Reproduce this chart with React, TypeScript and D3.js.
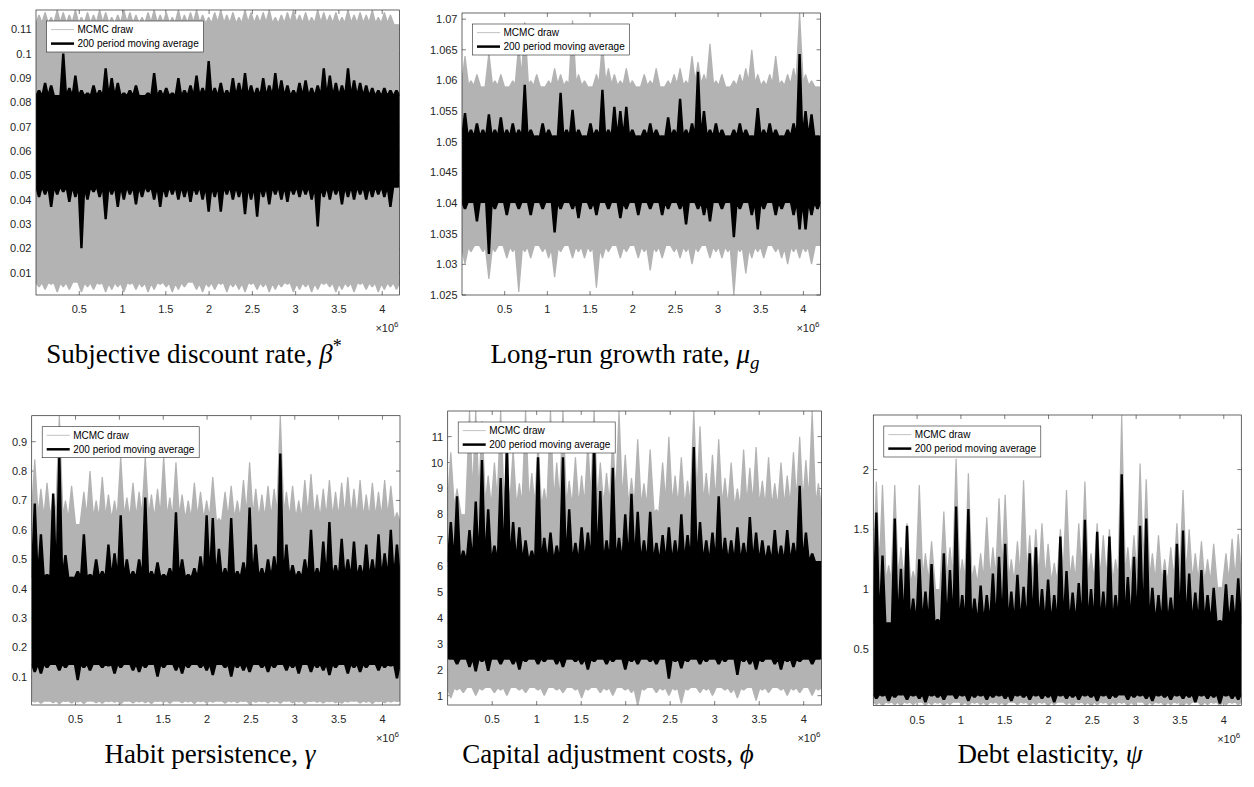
import React from 'react';
import * as d3 from 'd3';

// x axis: MCMC draw number, in millions (axis is scaled by 10^6)
const X_MAX = 4.2;
const BIN = 0.07; // width of one envelope bin, in millions of draws
const binStarts = d3.range(60).map((i) => i * BIN);
const xTicks = [0.5, 1, 1.5, 2, 2.5, 3, 3.5, 4];
const xTickLabels = ['0.5', '1', '1.5', '2', '2.5', '3', '3.5', '4'];

// ---- Subjective discount rate, beta* ----
const betaTicks = [0.01, 0.02, 0.03, 0.04, 0.05, 0.06, 0.07, 0.08, 0.09, 0.1, 0.11];
const betaTickLabels = ['0.01', '0.02', '0.03', '0.04', '0.05', '0.06', '0.07', '0.08', '0.09', '0.1', '0.11'];
const betaDrawHi = [0.116, 0.117, 0.115, 0.118, 0.117, 0.116, 0.118, 0.115, 0.117, 0.116, 0.118, 0.117, 0.115, 0.116, 0.118, 0.117, 0.116, 0.115, 0.117, 0.118, 0.116, 0.117, 0.115, 0.118, 0.116, 0.117, 0.118, 0.116, 0.115, 0.117, 0.118, 0.116, 0.117, 0.115, 0.118, 0.117, 0.116, 0.117, 0.118, 0.115, 0.116, 0.117, 0.118, 0.116, 0.117, 0.115, 0.118, 0.117, 0.116, 0.117, 0.115, 0.118, 0.116, 0.117, 0.116, 0.118, 0.115, 0.117, 0.116, 0.112];
const betaDrawLo = [0.004, 0.003, 0.005, 0.002, 0.004, 0.003, 0.006, 0.002, 0.004, 0.003, 0.005, 0.002, 0.003, 0.004, 0.002, 0.005, 0.003, 0.004, 0.002, 0.003, 0.005, 0.004, 0.002, 0.003, 0.004, 0.006, 0.003, 0.002, 0.004, 0.003, 0.005, 0.002, 0.004, 0.003, 0.002, 0.005, 0.003, 0.004, 0.002, 0.003, 0.004, 0.005, 0.002, 0.003, 0.004, 0.002, 0.003, 0.005, 0.004, 0.002, 0.003, 0.004, 0.002, 0.005, 0.003, 0.004, 0.002, 0.003, 0.004, 0.003];
const betaAvgHi = [0.085, 0.088, 0.087, 0.083, 0.1, 0.086, 0.091, 0.085, 0.084, 0.087, 0.085, 0.094, 0.09, 0.088, 0.084, 0.085, 0.087, 0.083, 0.084, 0.092, 0.085, 0.086, 0.084, 0.09, 0.085, 0.087, 0.091, 0.086, 0.097, 0.086, 0.088, 0.085, 0.09, 0.088, 0.092, 0.087, 0.086, 0.09, 0.087, 0.092, 0.089, 0.087, 0.085, 0.088, 0.089, 0.086, 0.087, 0.094, 0.091, 0.088, 0.087, 0.094, 0.089, 0.088, 0.087, 0.086, 0.085, 0.086, 0.085, 0.085];
const betaAvgLo = [0.041, 0.042, 0.037, 0.042, 0.043, 0.039, 0.041, 0.02, 0.04, 0.043, 0.041, 0.032, 0.042, 0.037, 0.04, 0.042, 0.038, 0.041, 0.043, 0.04, 0.037, 0.041, 0.042, 0.04, 0.041, 0.039, 0.042, 0.04, 0.035, 0.041, 0.035, 0.042, 0.04, 0.041, 0.034, 0.04, 0.033, 0.041, 0.038, 0.042, 0.04, 0.039, 0.042, 0.041, 0.042, 0.04, 0.029, 0.041, 0.04, 0.042, 0.038, 0.041, 0.04, 0.042, 0.04, 0.041, 0.042, 0.041, 0.037, 0.045];

// ---- Long-run growth rate, mu_g ----
const muTicks = [1.025, 1.03, 1.035, 1.04, 1.045, 1.05, 1.055, 1.06, 1.065, 1.07];
const muTickLabels = ['1.025', '1.03', '1.035', '1.04', '1.045', '1.05', '1.055', '1.06', '1.065', '1.07'];
const muDrawHi = [1.064, 1.06, 1.061, 1.059, 1.0645, 1.06, 1.061, 1.059, 1.06, 1.066, 1.0695, 1.06, 1.061, 1.059, 1.06, 1.062, 1.061, 1.06, 1.0698, 1.061, 1.06, 1.059, 1.061, 1.066, 1.062, 1.061, 1.06, 1.062, 1.06, 1.059, 1.061, 1.06, 1.062, 1.059, 1.06, 1.061, 1.062, 1.06, 1.064, 1.063, 1.061, 1.066, 1.06, 1.061, 1.059, 1.06, 1.061, 1.062, 1.065, 1.061, 1.06, 1.061, 1.064, 1.06, 1.061, 1.062, 1.071, 1.061, 1.06, 1.059];
const muDrawLo = [1.03, 1.032, 1.033, 1.032, 1.0276, 1.032, 1.033, 1.031, 1.032, 1.0255, 1.032, 1.031, 1.033, 1.032, 1.031, 1.0279, 1.032, 1.033, 1.031, 1.032, 1.031, 1.032, 1.0262, 1.031, 1.032, 1.033, 1.031, 1.032, 1.033, 1.031, 1.032, 1.029, 1.032, 1.031, 1.033, 1.032, 1.031, 1.032, 1.03, 1.032, 1.033, 1.031, 1.032, 1.031, 1.032, 1.025, 1.032, 1.0285, 1.031, 1.032, 1.031, 1.033, 1.032, 1.031, 1.03, 1.032, 1.031, 1.032, 1.03, 1.033];
const muAvgHi = [1.0547, 1.052, 1.053, 1.052, 1.0545, 1.052, 1.054, 1.052, 1.053, 1.052, 1.0593, 1.052, 1.051, 1.053, 1.052, 1.051, 1.058, 1.052, 1.0552, 1.052, 1.051, 1.053, 1.052, 1.0585, 1.052, 1.0557, 1.055, 1.0557, 1.052, 1.051, 1.052, 1.053, 1.052, 1.051, 1.054, 1.052, 1.057, 1.052, 1.053, 1.0614, 1.055, 1.052, 1.053, 1.052, 1.051, 1.052, 1.053, 1.052, 1.051, 1.0555, 1.052, 1.053, 1.052, 1.051, 1.052, 1.053, 1.0643, 1.055, 1.0545, 1.051];
const muAvgLo = [1.039, 1.04, 1.037, 1.04, 1.0317, 1.039, 1.04, 1.038, 1.04, 1.039, 1.04, 1.038, 1.04, 1.039, 1.04, 1.0352, 1.039, 1.04, 1.039, 1.0375, 1.04, 1.039, 1.038, 1.04, 1.039, 1.04, 1.0375, 1.039, 1.04, 1.038, 1.04, 1.039, 1.04, 1.038, 1.039, 1.04, 1.039, 1.0365, 1.04, 1.039, 1.038, 1.037, 1.04, 1.039, 1.04, 1.0344, 1.039, 1.04, 1.038, 1.0357, 1.039, 1.04, 1.038, 1.039, 1.04, 1.038, 1.0357, 1.0357, 1.038, 1.039];

// ---- Habit persistence, gamma ----
const gammaTicks = [0.1, 0.2, 0.3, 0.4, 0.5, 0.6, 0.7, 0.8, 0.9];
const gammaTickLabels = ['0.1', '0.2', '0.3', '0.4', '0.5', '0.6', '0.7', '0.8', '0.9'];
const gammaDrawHi = [0.84, 0.74, 0.76, 0.72, 0.99, 0.7, 0.75, 0.62, 0.73, 0.8, 0.7, 0.78, 0.72, 0.7, 0.85, 0.71, 0.76, 0.73, 0.85, 0.72, 0.74, 0.85, 0.71, 0.83, 0.72, 0.7, 0.76, 0.73, 0.7, 0.78, 0.64, 0.73, 0.75, 0.7, 0.77, 0.83, 0.74, 0.72, 0.75, 0.74, 0.99, 0.73, 0.75, 0.7, 0.77, 0.79, 0.72, 0.74, 0.77, 0.73, 0.76, 0.78, 0.74, 0.77, 0.72, 0.76, 0.73, 0.77, 0.75, 0.66];
const gammaDrawLo = [0.012, 0.008, 0.015, 0.01, 0.006, 0.014, 0.009, 0.012, 0.007, 0.016, 0.01, 0.008, 0.013, 0.011, 0.006, 0.015, 0.009, 0.012, 0.01, 0.007, 0.014, 0.011, 0.008, 0.016, 0.01, 0.012, 0.007, 0.013, 0.009, 0.011, 0.015, 0.008, 0.012, 0.01, 0.014, 0.006, 0.011, 0.013, 0.009, 0.012, 0.008, 0.015, 0.01, 0.012, 0.007, 0.014, 0.011, 0.009, 0.013, 0.01, 0.008, 0.012, 0.015, 0.009, 0.011, 0.007, 0.013, 0.01, 0.012, 0.014];
const gammaAvgHi = [0.69, 0.585, 0.45, 0.724, 0.85, 0.514, 0.44, 0.46, 0.585, 0.45, 0.5, 0.46, 0.55, 0.52, 0.65, 0.5, 0.46, 0.5, 0.71, 0.46, 0.49, 0.45, 0.47, 0.66, 0.5, 0.45, 0.47, 0.51, 0.65, 0.64, 0.536, 0.47, 0.64, 0.46, 0.49, 0.676, 0.55, 0.47, 0.5, 0.51, 0.86, 0.55, 0.48, 0.46, 0.5, 0.6, 0.47, 0.56, 0.627, 0.48, 0.57, 0.5, 0.56, 0.48, 0.55, 0.5, 0.585, 0.52, 0.6, 0.55];
const gammaAvgLo = [0.115, 0.11, 0.13, 0.14, 0.12, 0.13, 0.14, 0.088, 0.13, 0.12, 0.14, 0.13, 0.135, 0.11, 0.13, 0.14, 0.12, 0.115, 0.13, 0.14, 0.1, 0.13, 0.14, 0.12, 0.11, 0.13, 0.14, 0.13, 0.12, 0.105, 0.14, 0.13, 0.1, 0.13, 0.12, 0.115, 0.14, 0.13, 0.115, 0.13, 0.14, 0.12, 0.13, 0.11, 0.14, 0.115, 0.13, 0.12, 0.105, 0.13, 0.14, 0.11, 0.13, 0.115, 0.13, 0.14, 0.12, 0.13, 0.135, 0.094];

// ---- Capital adjustment costs, phi ----
const phiTicks = [1, 2, 3, 4, 5, 6, 7, 8, 9, 10, 11];
const phiTickLabels = ['1', '2', '3', '4', '5', '6', '7', '8', '9', '10', '11'];
const phiDrawHi = [10.4, 9.0, 8.0, 12.0, 12.0, 11.6, 9.5, 10.0, 12.0, 9.8, 10.5, 9.2, 12.0, 9.6, 10.7, 9.0, 12.0, 10.0, 12.0, 9.3, 10.2, 9.5, 10.8, 12.0, 10.0, 9.6, 11.0, 12.0, 10.3, 9.4, 10.9, 9.2, 10.5, 8.2, 10.0, 11.0, 9.5, 10.2, 9.3, 12.0, 11.4, 9.6, 10.3, 10.9, 9.4, 10.0, 9.0, 10.5, 9.8, 10.6, 9.3, 10.2, 9.2, 10.0, 9.5, 10.4, 11.0, 10.1, 12.0, 9.2];
const phiDrawLo = [0.9, 1.2, 1.1, 1.3, 1.0, 1.2, 1.3, 1.1, 1.2, 1.0, 1.3, 1.2, 1.1, 1.3, 1.2, 1.0, 1.3, 1.2, 1.1, 1.3, 1.2, 0.9, 1.2, 1.3, 1.1, 1.2, 1.0, 1.3, 1.2, 1.1, 0.6, 1.2, 1.3, 1.1, 1.2, 1.0, 1.2, 0.7, 1.2, 1.3, 1.1, 1.2, 1.0, 1.3, 1.2, 1.1, 0.9, 1.2, 1.3, 0.8, 1.2, 1.1, 1.3, 1.2, 1.0, 1.2, 1.1, 1.3, 1.0, 1.2];
const phiAvgHi = [7.7, 8.7, 6.6, 7.4, 8.5, 10.1, 8.2, 6.8, 9.4, 10.8, 7.7, 7.5, 7.0, 6.6, 10.2, 7.1, 7.3, 6.8, 10.2, 8.2, 6.9, 7.5, 7.3, 10.7, 8.9, 7.0, 9.8, 7.1, 8.0, 8.8, 8.1, 7.0, 8.1, 6.9, 7.2, 7.5, 7.0, 8.0, 7.2, 10.6, 7.7, 7.0, 7.3, 8.7, 7.1, 7.0, 7.5, 6.9, 7.9, 7.3, 7.0, 6.8, 7.4, 6.8, 7.4, 6.9, 9.1, 7.3, 6.5, 6.2];
const phiAvgLo = [2.4, 2.2, 2.4, 2.1, 1.93, 2.3, 1.95, 2.4, 2.2, 2.4, 2.2, 2.0, 2.3, 2.4, 2.2, 2.3, 2.4, 2.2, 2.1, 2.4, 2.3, 2.2, 2.0, 2.3, 2.4, 2.2, 2.3, 2.4, 2.0, 2.3, 2.2, 2.4, 2.3, 2.2, 2.4, 1.65, 2.3, 2.05, 2.3, 2.4, 2.2, 2.3, 2.4, 2.2, 2.3, 2.4, 1.8, 2.3, 2.2, 2.0, 2.3, 2.4, 2.2, 2.0, 2.3, 2.1, 2.3, 2.4, 2.2, 2.4];

// ---- Debt elasticity, psi ----
const psiTicks = [0.5, 1, 1.5, 2];
const psiTickLabels = ['0.5', '1', '1.5', '2'];
const psiDrawHi = [1.9, 1.87, 1.2, 1.87, 1.35, 1.55, 1.15, 1.87, 1.3, 1.4, 1.0, 1.65, 1.35, 2.09, 1.25, 1.97, 1.2, 1.3, 1.6, 1.35, 1.76, 1.79, 1.25, 1.4, 1.91, 1.45, 1.5, 1.55, 1.38, 1.22, 1.5, 1.83, 1.28, 1.55, 1.9, 1.3, 1.55, 1.45, 1.5, 1.25, 2.455, 1.35, 1.45, 2.05, 1.92, 1.3, 1.45, 1.25, 1.35, 1.55, 1.83, 1.5, 1.3, 1.4, 1.25, 1.38, 1.02, 1.3, 1.42, 1.46];
const psiDrawLo = [0.03, 0.02, 0.04, 0.03, 0.02, 0.04, 0.03, 0.05, 0.02, 0.03, 0.04, 0.02, 0.03, 0.05, 0.03, 0.02, 0.04, 0.03, 0.02, 0.04, 0.03, 0.02, 0.05, 0.03, 0.04, 0.02, 0.03, 0.04, 0.02, 0.03, 0.05, 0.03, 0.02, 0.04, 0.03, 0.02, 0.03, 0.04, 0.02, 0.03, 0.04, 0.02, 0.03, 0.05, 0.02, 0.03, 0.04, 0.02, 0.03, 0.04, 0.02, 0.03, 0.05, 0.02, 0.03, 0.04, 0.02, 0.03, 0.04, 0.03];
const psiAvgHi = [1.64, 1.28, 0.72, 1.59, 1.17, 1.53, 0.92, 1.25, 0.98, 1.21, 0.75, 1.3, 1.16, 1.69, 0.95, 1.67, 0.92, 1.03, 0.95, 1.13, 1.27, 1.38, 0.98, 1.12, 1.02, 1.3, 1.35, 1.0, 1.08, 0.95, 1.44, 1.15, 0.97, 1.05, 1.58, 1.0, 1.48, 0.98, 1.44, 0.95, 1.96, 1.1, 1.27, 1.53, 1.59, 1.01, 0.95, 1.16, 0.93, 1.38, 1.49, 1.13, 0.97, 1.16, 0.95, 1.01, 0.74, 1.04, 0.95, 1.09];
const psiAvgLo = [0.08, 0.1, 0.06, 0.09, 0.11, 0.07, 0.1, 0.08, 0.05, 0.1, 0.09, 0.07, 0.11, 0.08, 0.1, 0.06, 0.09, 0.1, 0.07, 0.09, 0.1, 0.08, 0.06, 0.1, 0.09, 0.07, 0.1, 0.08, 0.09, 0.05, 0.1, 0.08, 0.09, 0.07, 0.1, 0.09, 0.06, 0.1, 0.08, 0.09, 0.11, 0.07, 0.09, 0.1, 0.08, 0.06, 0.1, 0.09, 0.07, 0.1, 0.08, 0.09, 0.05, 0.1, 0.08, 0.09, 0.04, 0.1, 0.08, 0.07];

const GRAY = '#b3b3b3';
const AXIS = '#262626';
const SANS = '"Liberation Sans", Arial, Helvetica, sans-serif';
const SERIF = '"Liberation Serif", "Times New Roman", serif';

type Panel = {
  id: string;
  left: number; right: number; top: number; bottom: number;
  yDomain: [number, number];
  yTicks: number[]; yTickLabels: string[];
  drawHi: number[]; drawLo: number[]; avgHi: number[]; avgLo: number[];
  titleX: number; titleY: number; title: React.ReactNode;
};

const panels: Panel[] = [
  {
    id: 'beta', left: 36, right: 399.5, top: 10, bottom: 295, yDomain: [0.00084, 0.1179],
    yTicks: betaTicks, yTickLabels: betaTickLabels,
    drawHi: betaDrawHi, drawLo: betaDrawLo, avgHi: betaAvgHi, avgLo: betaAvgLo,
    titleX: 194, titleY: 363,
    title: <>Subjective discount rate, <tspan fontStyle="italic">β</tspan><tspan dy={-11} fontSize={18}>*</tspan></>,
  },
  {
    id: 'mu', left: 462, right: 820.5, top: 13, bottom: 295, yDomain: [1.025, 1.071],
    yTicks: muTicks, yTickLabels: muTickLabels,
    drawHi: muDrawHi, drawLo: muDrawLo, avgHi: muAvgHi, avgLo: muAvgLo,
    titleX: 625, titleY: 363,
    title: <>Long-run growth rate, <tspan fontStyle="italic">μ</tspan><tspan fontStyle="italic" dy={6} fontSize={19}>g</tspan></>,
  },
  {
    id: 'gamma', left: 31.7, right: 400, top: 415.7, bottom: 705, yDomain: [0.0037, 0.9885],
    yTicks: gammaTicks, yTickLabels: gammaTickLabels,
    drawHi: gammaDrawHi, drawLo: gammaDrawLo, avgHi: gammaAvgHi, avgLo: gammaAvgLo,
    titleX: 210, titleY: 763,
    title: <>Habit persistence, <tspan fontStyle="italic">γ</tspan></>,
  },
  {
    id: 'phi', left: 447.7, right: 821.5, top: 411, bottom: 705, yDomain: [0.64, 11.99],
    yTicks: phiTicks, yTickLabels: phiTickLabels,
    drawHi: phiDrawHi, drawLo: phiDrawLo, avgHi: phiAvgHi, avgLo: phiAvgLo,
    titleX: 608, titleY: 763,
    title: <>Capital adjustment costs, <tspan fontStyle="italic">ϕ</tspan></>,
  },
  {
    id: 'psi', left: 873.3, right: 1241.3, top: 415, bottom: 705.5, yDomain: [0.025, 2.457],
    yTicks: psiTicks, yTickLabels: psiTickLabels,
    drawHi: psiDrawHi, drawLo: psiDrawLo, avgHi: psiAvgHi, avgLo: psiAvgLo,
    titleX: 1050, titleY: 763,
    title: <>Debt elasticity, <tspan fontStyle="italic">ψ</tspan></>,
  },
];

// solid band between the extremes every bin shares, plus one tapered spike per bin
function Envelope({ hi, lo, x, y, color, tip, spread }: any) {
  const step = x(BIN) - x(0);
  const half = (step * spread) / 2;
  const yTop = y(d3.min(hi) as number);
  const yBot = y(d3.max(lo) as number);
  let up = '';
  let down = '';
  hi.forEach((v: number, i: number) => {
    const xc = x(binStarts[i]) + step / 2;
    up += `M${xc - half},${yTop + 1}L${xc - tip / 2},${y(v)}H${xc + tip / 2}L${xc + half},${yTop + 1}Z`;
    down += `M${xc - half},${yBot - 1}L${xc - tip / 2},${y(lo[i])}H${xc + tip / 2}L${xc + half},${yBot - 1}Z`;
  });
  return (
    <g fill={color}>
      <rect x={x(0)} y={yTop} width={x(X_MAX) - x(0)} height={yBot - yTop} />
      <path d={up} />
      <path d={down} />
    </g>
  );
}

function TracePanel({ p }: { p: Panel }) {
  const x = d3.scaleLinear().domain([0, X_MAX]).range([p.left, p.right]);
  const y = d3.scaleLinear().domain(p.yDomain).range([p.bottom, p.top]);
  const tk = 4;
  const lx = p.left + 10.5;
  const ly = p.top + 11;
  return (
    <g>
      <defs>
        <clipPath id={`clip-${p.id}`}>
          <rect x={p.left} y={p.top} width={p.right - p.left} height={p.bottom - p.top} />
        </clipPath>
      </defs>
      <g stroke={AXIS} strokeWidth={0.6}>
        {xTicks.map((t) => (
          <g key={t}>
            <line x1={x(t)} x2={x(t)} y1={p.bottom} y2={p.bottom - tk} />
            <line x1={x(t)} x2={x(t)} y1={p.top} y2={p.top + tk} />
          </g>
        ))}
        {p.yTicks.map((t) => (
          <g key={t}>
            <line x1={p.left} x2={p.left + tk} y1={y(t)} y2={y(t)} />
            <line x1={p.right} x2={p.right - tk} y1={y(t)} y2={y(t)} />
          </g>
        ))}
      </g>
      <g clipPath={`url(#clip-${p.id})`}>
        <Envelope hi={p.drawHi} lo={p.drawLo} x={x} y={y} color={GRAY} tip={1.2} spread={1.5} />
        <Envelope hi={p.avgHi} lo={p.avgLo} x={x} y={y} color="#000" tip={2.4} spread={1.3} />
      </g>
      <rect x={p.left} y={p.top} width={p.right - p.left} height={p.bottom - p.top}
        fill="none" stroke={AXIS} strokeWidth={0.7} />
      <g fontFamily={SANS} fontSize={11} fill={AXIS}>
        {xTicks.map((t, i) => (
          <text key={t} x={x(t)} y={p.bottom + 18} textAnchor="middle">{xTickLabels[i]}</text>
        ))}
        {p.yTicks.map((t, i) => (
          <text key={t} x={p.left - 4.5} y={y(t) + 4} textAnchor="end">{p.yTickLabels[i]}</text>
        ))}
        <text x={p.right - 1} y={p.bottom + 37} textAnchor="end">
          ×10<tspan dy={-5} fontSize={8}>6</tspan>
        </text>
      </g>
      <g>
        <rect x={lx} y={ly} width={157} height={31} fill="#fff" stroke={AXIS} strokeWidth={0.6} />
        <line x1={lx + 4.5} x2={lx + 27.5} y1={ly + 8.6} y2={ly + 8.6} stroke={GRAY} strokeWidth={0.8} />
        <line x1={lx + 4.5} x2={lx + 27.5} y1={ly + 22.6} y2={ly + 22.6} stroke="#000" strokeWidth={2.5} />
        <g fontFamily={SANS} fontSize={10} fill="#000">
          <text x={lx + 31} y={ly + 12.2}>MCMC draw</text>
          <text x={lx + 31} y={ly + 26.2}>200 period moving average</text>
        </g>
      </g>
      <text x={p.titleX} y={p.titleY} textAnchor="middle" fontFamily={SERIF} fontSize={27} fill="#000">
        {p.title}
      </text>
    </g>
  );
}

export default function App() {
  return (
    <svg width={1254} height={787} viewBox="0 0 1254 787"
      style={{ position: 'absolute', left: 0, top: 0, background: '#fff' }}>
      <rect width={1254} height={787} fill="#fff" />
      {panels.map((p) => <TracePanel key={p.id} p={p} />)}
    </svg>
  );
}
